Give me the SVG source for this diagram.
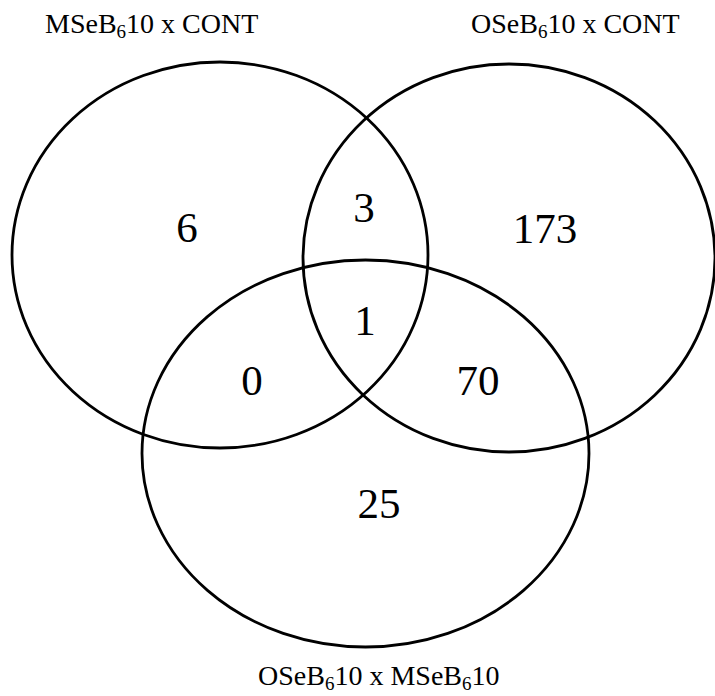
<svg xmlns="http://www.w3.org/2000/svg" width="715" height="696" viewBox="0 0 715 696">
<style>
.set{fill:none;stroke:#000;stroke-width:2.8}
.lbl{font-family:"Liberation Serif","Times New Roman",serif;font-size:28px;fill:#000}
.sub{font-size:19px}
.num{font-family:"Liberation Serif","Times New Roman",serif;font-size:43px;fill:#000;text-anchor:middle}
</style>
<rect width="715" height="696" fill="#fff"/>
<g id="set-mseb-cont">
<ellipse class="set" cx="220" cy="255" rx="208" ry="193"/>
<text class="lbl" x="45" y="33">MSeB<tspan class="sub" dy="5">6</tspan><tspan dy="-5">10 x CONT</tspan></text>
</g>
<g id="set-oseb-cont">
<ellipse class="set" cx="509" cy="258" rx="206" ry="194"/>
<text class="lbl" x="471" y="33">OSeB<tspan class="sub" dy="5">6</tspan><tspan dy="-5">10 x CONT</tspan></text>
</g>
<g id="set-oseb-mseb">
<ellipse class="set" cx="365.5" cy="453.5" rx="223.5" ry="193.5"/>
<text class="lbl" x="258" y="685">OSeB<tspan class="sub" dy="5">6</tspan><tspan dy="-5">10 x MSeB</tspan><tspan class="sub" dy="5">6</tspan><tspan dy="-5">10</tspan></text>
</g>
<g id="counts">
<text class="num" x="187" y="242">6</text>
<text class="num" x="364" y="222">3</text>
<text class="num" x="545" y="243">173</text>
<text class="num" x="365" y="335">1</text>
<text class="num" x="252" y="395">0</text>
<text class="num" x="478" y="395">70</text>
<text class="num" x="379" y="518">25</text>
</g>
<g id="connectors"/>
</svg>
